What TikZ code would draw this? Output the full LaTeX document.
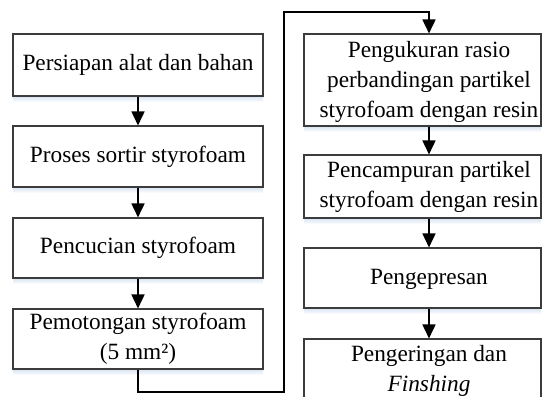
\documentclass[tikz,border=0pt]{standalone}
\usepackage{fontspec}
\setmainfont{Liberation Serif}
\usetikzlibrary{arrows.meta}
\definecolor{boxline}{RGB}{60,60,60}
\definecolor{shc}{RGB}{214,226,242}
\tikzset{
  stepbox/.style={draw=boxline, line width=1.1pt, fill=white, inner sep=0pt, minimum width=250pt},
  rbox/.style={draw=boxline, line width=1.1pt, fill=white, inner sep=0pt, minimum width=237pt},
  txt/.style={align=center, inner sep=0pt, font=\fontsize{23.3}{30}\selectfont},
  arr/.style={line width=1.7pt, -{Triangle[length=14pt, width=13pt]}},
  shad/.style={top color=shc, bottom color=white, draw=none}
}
\begin{document}
\begin{tikzpicture}[x=1pt, y=-1pt]
\useasboundingbox (0,0) rectangle (543,396);
% shadows (drawn first, under everything)
\foreach \yy/\xa/\xb in {96/13/263, 187/13/263, 278/13/263, 369/13/263, 126/304/541, 218/304/541, 308/304/541}{
  \shade[shad] (\xa,\yy) rectangle (\xb,\yy+6);
}
% left column
\node[stepbox, minimum height=62pt] (b1) at (138,65) {};
\node[txt] (t1) at (138,65) {Persiapan alat dan bahan};
\node[stepbox, minimum height=61pt] (b2) at (138,156.5) {};
\node[txt] (t2) at (138,156.5) {Proses sortir styrofoam};
\node[stepbox, minimum height=60pt] (b3) at (138,248) {};
\node[txt] (t3) at (138,248) {Pencucian styrofoam};
\node[stepbox, minimum height=60pt] (b4) at (138,339) {};
\node[txt] (t4) at (138,339) {Pemotongan styrofoam\\(5 mm²)};
% right column
\node[rbox, minimum height=92pt] (b5) at (422.5,80) {};
\node[txt] (t5) at (429,82) {Pengukuran rasio\\perbandingan partikel\\styrofoam dengan resin};
\node[rbox, minimum height=63pt] (b6) at (422.5,186.5) {};
\node[txt] (t6) at (429,187) {Pencampuran partikel\\styrofoam dengan resin};
\node[rbox, minimum height=60pt] (b7) at (422.5,278) {};
\node[txt] (t7) at (429,279) {Pengepresan};
\node[rbox, minimum height=62pt] (b8) at (422.5,370) {};
\node[txt] (t8) at (429,371) {Pengeringan dan\\\textit{Finshing}};
% connectors
\draw[arr] (b1) -- (b2);
\draw[arr] (b2) -- (b3);
\draw[arr] (b3) -- (b4);
\coordinate (c1) at (284,392);
\coordinate (c2) at (284,12);
\draw[arr, line join=miter] (b4.south) |- (c1) -- (c2) -| (b5.north -| t5);
\draw[arr] (b5.south -| t5) -- (b6.north -| t6);
\draw[arr] (b6.south -| t6) -- (b7.north -| t7);
\draw[arr] (b7.south -| t7) -- (b8.north -| t8);
\end{tikzpicture}
\end{document}
